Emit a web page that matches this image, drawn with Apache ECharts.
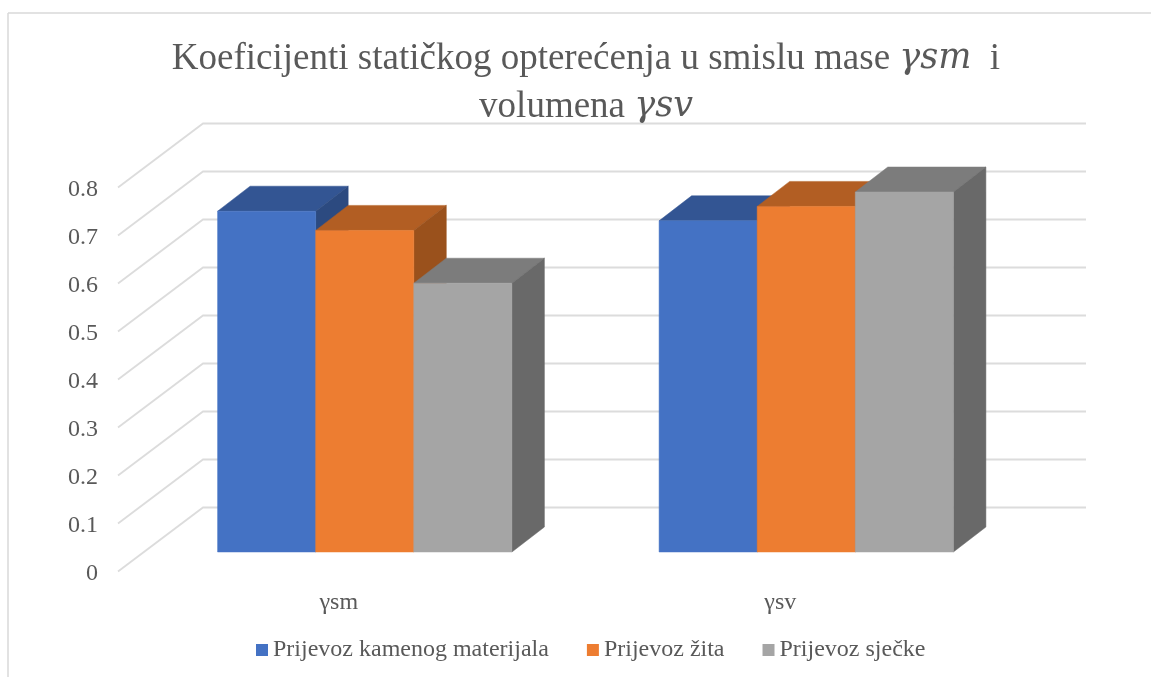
<!DOCTYPE html>
<html><head><meta charset="utf-8">
<style>html,body{margin:0;padding:0;background:#fff}#c{width:1151px;height:677px}</style>
<script src="https://cdn.jsdelivr.net/npm/echarts@6/dist/echarts.min.js"></script>
</head><body><div id="c"></div>
<script>
const categories = ['γsm', 'γsv'];
const seriesNames = ['Prijevoz kamenog materijala', 'Prijevoz žita', 'Prijevoz sječke'];
const kamen = [0.71, 0.69];
const zito = [0.67, 0.72];
const sjecka = [0.56, 0.75];
const ticks = [0, 0.1, 0.2, 0.3, 0.4, 0.5, 0.6, 0.7, 0.8];
const faces = [
  {front:'#4472C4', top:'#335593', side:'#2C4A80'},
  {front:'#ED7D31', top:'#B25E23', side:'#9A511C'},
  {front:'#A5A5A5', top:'#7C7C7C', side:'#696969'}
];
const FONT = '"Liberation Serif"';
const MATH = '"DejaVu Serif"';
const TXT = '#595959';
const WALL = [85, -64];      // depth of the floor
const START = [26, -19.5];   // front of the bars relative to the front of the floor
const DEPTH = [32.5, -25];   // bar depth

function wallItem(params, api) {
  const v = api.value(0);
  const y = api.coord([0, v])[1];
  const x0 = params.coordSys.x, x1 = x0 + params.coordSys.width;
  return {type:'polyline', silent:true,
    shape:{points:[[x0, y],[x0+WALL[0], y+WALL[1]],[x1+WALL[0], y+WALL[1]]]},
    style:{fill:null, stroke:'#DCDCDC', lineWidth:1.8}};
}
function barRenderer(si) {
  return function (params, api) {
    const c = api.value(0), v = api.value(1);
    const band = api.size([1, 0])[0];
    const w = band * 0.2222;
    const top = api.coord([c, v]), base = api.coord([c, 0]);
    const l = top[0] + START[0] + (si - 1.5) * w;
    const r = l + w;
    const t = top[1] + START[1], b = base[1] + START[1];
    const f = faces[si];
    const poly = (pts, fill) => ({type:'polygon', shape:{points:pts}, style:{fill, stroke:fill, lineWidth:0.5}});
    return {type:'group', children:[
      poly([[l,t],[r,t],[r+DEPTH[0],t+DEPTH[1]],[l+DEPTH[0],t+DEPTH[1]]], f.top),
      poly([[r,t],[r+DEPTH[0],t+DEPTH[1]],[r+DEPTH[0],b+DEPTH[1]],[r,b]], f.side),
      poly([[l,t],[r,t],[r,b],[l,b]], f.front)
    ]};
  };
}
const values = [kamen, zito, sjecka];
const chart = echarts.init(document.getElementById('c'), null, {renderer:'canvas'});
chart.setOption({
  animation:false,
  backgroundColor:'#fff',
  graphic:[
    {type:'line', shape:{x1:8,y1:13,x2:1151,y2:13}, style:{stroke:'#D9D9D9', lineWidth:1.5}, silent:true},
    {type:'line', shape:{x1:8,y1:13,x2:8,y2:677}, style:{stroke:'#D9D9D9', lineWidth:1.5}, silent:true}
  ],
  title:{
    left:586, top:35, padding:0, itemGap:0, textAlign:'center',
    text:'{r|Koeficijenti statičkog opterećenja u smislu mase }{i|γsm}{r|  i}\n{r|volumena }{i|γsv}',
    textStyle:{
      fontFamily:FONT, fontSize:37, fontWeight:'normal', color:TXT, lineHeight:48,
      rich:{
        r:{fontFamily:FONT, fontSize:37, color:TXT, lineHeight:48},
        i:{fontFamily:MATH, fontSize:35, color:TXT, fontStyle:'italic', lineHeight:48}
      }
    }
  },
  legend:{
    left:251, top:633, itemWidth:12, itemHeight:12, itemGap:38, icon:'rect',
    data:seriesNames,
    textStyle:{fontFamily:FONT, fontSize:24, color:TXT}
  },
  grid:{left:118, right:150, top:187.5, bottom:105.5, containLabel:false},
  xAxis:{
    type:'category', data:categories,
    axisLine:{show:false}, axisTick:{show:false}, splitLine:{show:false},
    axisLabel:{fontFamily:FONT, fontSize:24, color:TXT, margin:19}
  },
  yAxis:{
    type:'value', min:0, max:0.8, interval:0.1,
    axisLine:{show:false}, axisTick:{show:false}, splitLine:{show:false},
    axisLabel:{
      margin:20, formatter:'{v|{value}}',
      rich:{v:{fontFamily:FONT, fontSize:24, color:TXT, lineHeight:24, padding:[4,0,0,0]}}
    }
  },
  series:[
    {type:'custom', name:'wall', silent:true, renderItem:wallItem, data:ticks.map(t=>[t]),
     encode:{y:0}, clip:false, z:1},
    ...seriesNames.map((n,i)=>({
      type:'custom', name:n, renderItem:barRenderer(i), clip:false, z:2+i,
      itemStyle:{color:faces[i].front},
      encode:{x:0,y:1},
      data:categories.map((_,k)=>[k, values[i][k]])
    }))
  ]
});
</script></body></html>
